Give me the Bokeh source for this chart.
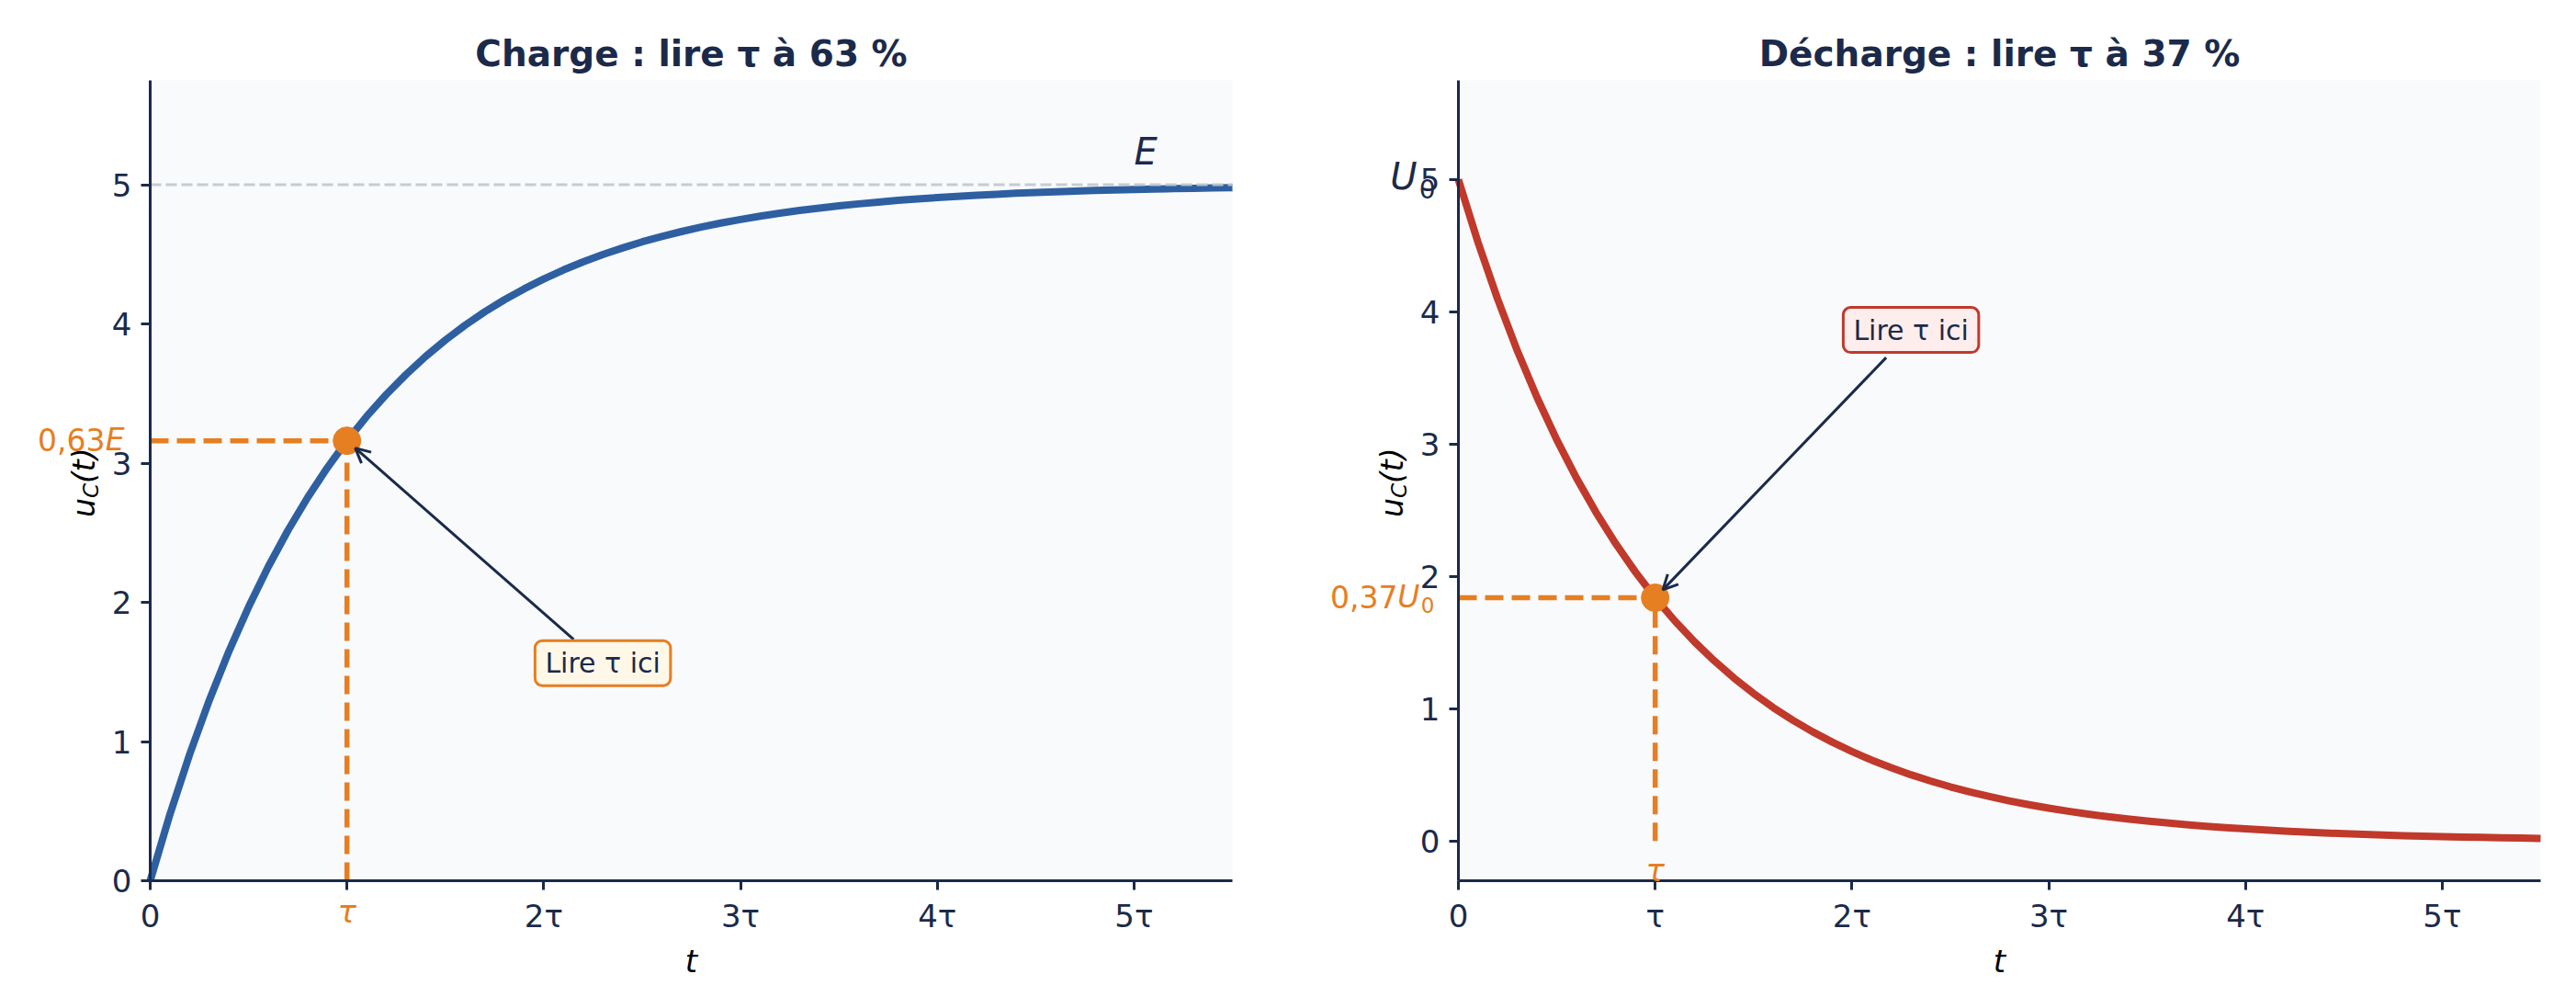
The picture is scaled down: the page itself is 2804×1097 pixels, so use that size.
import math
from bokeh.plotting import figure
from bokeh.models import Label, Arrow, OpenHead, FixedTicker, Range1d, BoxAnnotation
from bokeh.layouts import row
from bokeh.embed import file_html
from bokeh.resources import INLINE

# ---------------- data ----------------
T = [0.0, 0.1, 0.2, 0.3, 0.4, 0.5, 0.6, 0.7, 0.8, 0.9,
     1.0, 1.1, 1.2, 1.3, 1.4, 1.5, 1.6, 1.7, 1.8, 1.9,
     2.0, 2.1, 2.2, 2.3, 2.4, 2.5, 2.6, 2.7, 2.8, 2.9,
     3.0, 3.1, 3.2, 3.3, 3.4, 3.5, 3.6, 3.7, 3.8, 3.9,
     4.0, 4.1, 4.2, 4.3, 4.4, 4.5, 4.6, 4.7, 4.8, 4.9,
     5.0, 5.1, 5.2, 5.3, 5.4, 5.5]
U_CHARGE = [0.000, 0.476, 0.906, 1.296, 1.648, 1.967, 2.256, 2.517, 2.753, 2.967,
            3.161, 3.336, 3.494, 3.637, 3.767, 3.884, 3.991, 4.087, 4.174, 4.252,
            4.323, 4.388, 4.446, 4.499, 4.546, 4.590, 4.629, 4.664, 4.696, 4.725,
            4.751, 4.775, 4.796, 4.816, 4.833, 4.849, 4.863, 4.876, 4.888, 4.899,
            4.908, 4.917, 4.925, 4.932, 4.939, 4.944, 4.950, 4.955, 4.959, 4.963,
            4.966, 4.970, 4.972, 4.975, 4.977, 4.980]
U_DECHARGE = [5.000, 4.524, 4.094, 3.704, 3.352, 3.033, 2.744, 2.483, 2.247, 2.033,
              1.839, 1.664, 1.506, 1.363, 1.233, 1.116, 1.009, 0.913, 0.826, 0.748,
              0.677, 0.612, 0.554, 0.501, 0.454, 0.410, 0.371, 0.336, 0.304, 0.275,
              0.249, 0.225, 0.204, 0.184, 0.167, 0.151, 0.137, 0.124, 0.112, 0.101,
              0.092, 0.083, 0.075, 0.068, 0.061, 0.056, 0.050, 0.045, 0.041, 0.037,
              0.034, 0.030, 0.028, 0.025, 0.023, 0.020]
E_LEVEL = 5.0
TAU_POINT_CHARGE = (1.0, 3.161)
TAU_POINT_DECHARGE = (1.0, 1.839)
NOTE_CHARGE = (2.3, 1.55)
NOTE_DECHARGE = (2.3, 3.85)
X_TICKS = [0, 1, 2, 3, 4, 5]
X_TICK_LABELS = ["0", "τ", "2τ", "3τ", "4τ", "5τ"]
Y_TICKS = [0, 1, 2, 3, 4, 5]
TITLES = ["Charge : lire τ à 63 %", "Décharge : lire τ à 37 %"]
NOTE_TEXT = "Lire τ ici"

# ---------------- style / geometry ----------------
NAVY = "#1B2A4A"
BLUE = "#2E5FA1"
RED = "#C0392B"
ORANGE = "#E67E22"
GRAY = "#BFC7CC"
BG = "#F8FAFC"
FONT = "DejaVu Sans"

PAGE = 0            # offset of the canvas on the page
HEIGHT = 1095
X_RANGE = (0, 5.5)


class Panel:
    def __init__(self, title, yr, box, canvas_left, width):
        self.yr = yr
        L, R, Tp, B = box                      # page pixels of the axes area
        self.xpx = (R - L) / (X_RANGE[1] - X_RANGE[0])
        self.ypx = (B - Tp) / (yr[1] - yr[0])
        xr = Range1d(X_RANGE[0] - (L - canvas_left) / self.xpx,
                     X_RANGE[1] + (canvas_left + width - R) / self.xpx)
        yrng = Range1d(yr[0] - (PAGE + HEIGHT - B) / self.ypx,
                       yr[1] + (Tp - PAGE) / self.ypx)
        p = figure(width=width, height=HEIGHT, x_range=xr, y_range=yrng,
                   output_backend="svg", toolbar_location=None,
                   min_border=0, background_fill_color="white",
                   border_fill_color="white", outline_line_color=None)
        self.p = p
        p.xgrid.visible = False
        p.ygrid.visible = False
        p.add_layout(BoxAnnotation(left=X_RANGE[0], right=X_RANGE[1], bottom=yr[0], top=yr[1],
                                   fill_color=BG, fill_alpha=1, line_alpha=0,
                                   level="underlay"))
        for ax in (p.xaxis[0], p.yaxis[0]):
            ax.axis_line_color = NAVY
            ax.axis_line_width = 3
            ax.major_tick_line_color = NAVY
            ax.major_tick_line_width = 3
            ax.major_tick_out = 10
            ax.major_tick_in = 0
            ax.minor_tick_line_color = None
            ax.major_label_text_font = FONT
            ax.major_label_text_font_size = "34px"
            ax.major_label_text_color = NAVY
        p.xaxis.fixed_location = yr[0]
        p.xaxis.bounds = X_RANGE
        p.yaxis.fixed_location = X_RANGE[0]
        p.yaxis.bounds = yr
        p.xaxis.ticker = FixedTicker(ticks=X_TICKS)
        p.yaxis.ticker = FixedTicker(ticks=Y_TICKS)
        p.xaxis.major_label_standoff = 8
        p.yaxis.major_label_standoff = 10
        p.xaxis.axis_label = "t"
        p.xaxis.axis_label_text_font = FONT
        p.xaxis.axis_label_text_font_style = "italic"
        p.xaxis.axis_label_text_font_size = "34px"
        p.xaxis.axis_label_text_color = "black"
        p.xaxis.axis_label_standoff = 6
        # title centred over the axes area
        p.add_layout(Label(x=(X_RANGE[0] + X_RANGE[1]) / 2, y=yr[1], y_offset=29, text=title,
                           text_align="center", text_baseline="middle",
                           text_font=FONT, text_font_style="bold",
                           text_font_size="39px", text_color=NAVY))
        # y label u_C(t)
        ymid = (yr[0] + yr[1]) / 2
        for txt, dx, dy, size in (("u", -72, -40, "33px"), ("C", -65, -19, "23px"),
                                  ("(t)", -72, -3, "33px")):
            p.add_layout(Label(x=0, y=ymid, x_offset=dx, y_offset=dy, text=txt,
                               angle=math.pi / 2, text_align="left",
                               text_baseline="middle", text_font=FONT,
                               text_font_style="italic", text_font_size=size,
                               text_color="black"))

    def label(self, x, y, text, dx=0, dy=0, **kw):
        style = dict(text_font=FONT, text_align="right", text_baseline="middle")
        style.update(kw)
        self.p.add_layout(Label(x=x, y=y, x_offset=dx, y_offset=dy, text=text, **style))

    def tau_marks(self, pt):
        tx, ty = pt
        y0 = max(self.yr[0], 0)
        self.p.line([0, tx], [ty, ty], line_color=ORANGE, line_width=5.5, line_dash="20 9")
        self.p.line([tx, tx], [y0, ty], line_color=ORANGE, line_width=5.5, line_dash="20 9")
        self.label(tx, -0.22, "τ", text_align="center",
                   text_font_style="italic", text_font_size="34px", text_color=ORANGE)

    def note(self, pos, target, fill, border):
        cx, cy = pos
        tx, ty = target
        dx, dy = (tx - cx) * self.xpx, (ty - cy) * self.ypx
        dist = math.hypot(dx, dy)
        t0 = 24.5 / abs(dy) + 5 / dist
        t1 = 1 - 12 / dist
        self.p.add_layout(Arrow(end=OpenHead(size=16, line_color=NAVY, line_width=3),
                                x_start=cx + t0 * (tx - cx), y_start=cy + t0 * (ty - cy),
                                x_end=cx + t1 * (tx - cx), y_end=cy + t1 * (ty - cy),
                                line_color=NAVY, line_width=3))
        self.p.add_layout(Label(x=cx, y=cy, y_offset=2, text=NOTE_TEXT, text_align="center",
                                text_baseline="middle", text_font=FONT,
                                text_font_size="30px", text_color=NAVY,
                                background_fill_color=fill, border_line_color=border,
                                border_line_width=3, border_radius=8,
                                padding=dict(left=11, right=11, top=7, bottom=7)))


# ---------------- charge ----------------
c = Panel(TITLES[0], (0, 5.75), (163, 1341, 87, 958), PAGE, 1400)
c.p.xaxis.major_label_overrides = {k: (lab if k != 1 else "") for k, lab in zip(X_TICKS, X_TICK_LABELS)}
c.tau_marks(TAU_POINT_CHARGE)
c.p.line(T, U_CHARGE, line_color=BLUE, line_width=8, line_join="round")
c.p.line([X_RANGE[0], X_RANGE[1]], [E_LEVEL, E_LEVEL], line_color=GRAY, line_width=3,
         line_dash="12 5", line_alpha=0.9)
c.p.scatter([TAU_POINT_CHARGE[0]], [TAU_POINT_CHARGE[1]], size=30, color=ORANGE)
c.label(5.0, 5.15, "E", dy=13, text_align="left", text_font_style="italic",
        text_font_size="40px", text_color=NAVY)
c.label(0, TAU_POINT_CHARGE[1], "E", dx=-28, dy=1, text_font_style="italic",
        text_font_size="33px", text_color=ORANGE)
c.label(0, TAU_POINT_CHARGE[1], "0,63", dx=-49, dy=1, text_font_size="33px",
        text_color=ORANGE)
c.note(NOTE_CHARGE, TAU_POINT_CHARGE, "#FFF8E8", ORANGE)

# ---------------- décharge ----------------
d = Panel(TITLES[1], (-0.3, 5.75), (1587, 2765, 87, 958), PAGE + 1400, 1400)
d.p.xaxis.major_label_overrides = {k: lab for k, lab in zip(X_TICKS, X_TICK_LABELS)}
d.tau_marks(TAU_POINT_DECHARGE)
d.p.line(T, U_DECHARGE, line_color=RED, line_width=8, line_join="round")
d.p.scatter([TAU_POINT_DECHARGE[0]], [TAU_POINT_DECHARGE[1]], size=30, color=ORANGE)
d.label(0, E_LEVEL, "0", dx=-25, dy=-10, text_font_size="28px", text_color=NAVY)
d.label(0, E_LEVEL, "U", dx=-45, dy=3, text_font_style="italic",
        text_font_size="40px", text_color=NAVY)
d.label(0, TAU_POINT_DECHARGE[1], "0", dx=-26, dy=-8, text_font_size="23px",
        text_color=ORANGE)
d.label(0, TAU_POINT_DECHARGE[1], "U", dx=-42, dy=1, text_font_style="italic",
        text_font_size="33px", text_color=ORANGE)
d.label(0, TAU_POINT_DECHARGE[1], "0,37", dx=-66, dy=1, text_font_size="33px",
        text_color=ORANGE)
d.note(NOTE_DECHARGE, TAU_POINT_DECHARGE, "#FDEDEC", RED)

layout = row(c.p, d.p)
open("out.html", "w").write(file_html(layout, INLINE))
